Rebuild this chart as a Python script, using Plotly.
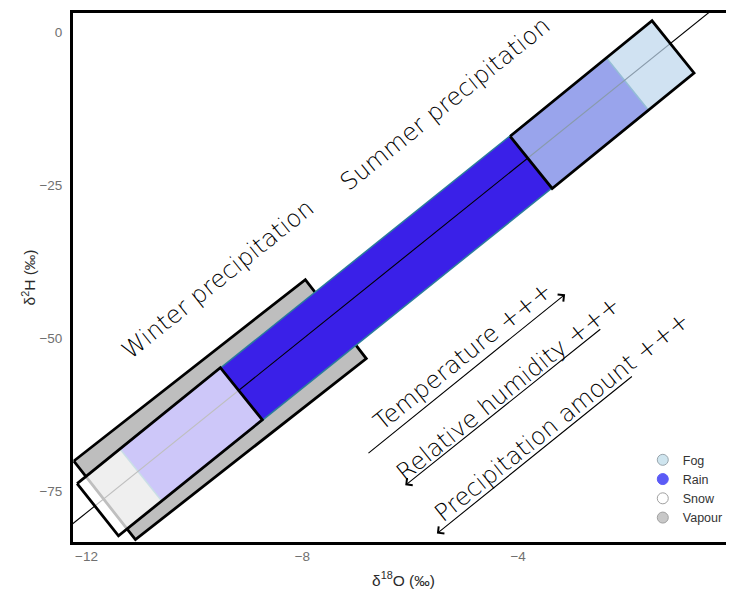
import math
import plotly.graph_objects as go

# ---- data (δ18O, δ2H in ‰) ----
lmwl_d18O = [-12.6, 0.3]
lmwl_d2H = [-82.8, 8.6]

vapour_d18O = [-12.235, -7.944, -6.815, -11.093]
vapour_d2H = [-70.10, -40.46, -53.37, -82.94]

rain_d18O = [-11.383, -2.357, -1.580, -10.606]
rain_d2H = [-68.09, -4.30, -12.83, -76.62]

snow_d18O = [-12.174, -9.519, -8.741, -11.407]
snow_d2H = [-73.79, -54.84, -63.37, -82.32]

fog_d18O = [-4.148, -1.519, -0.741, -3.370]
fog_d2H = [-17.04, 1.83, -6.70, -25.57]

legend_names = ["Fog", "Rain", "Snow", "Vapour"]

x_ticks = [-12, -8, -4, 0]
y_ticks = [-75, -50, -25, 0]

# label centres (δ18O, δ2H)
labels = ["Winter precipitation", "Summer precipitation", "Temperature +++",
          "Relative humidity +++", "Precipitation amount +++"]
label_x = [-9.556, -5.352, -5.019, -4.194, -3.191]
label_y = [-40.41, -11.81, -52.99, -58.27, -62.91]

# arrows: tail -> head
arrow_tail_x = [-6.802, -2.450, -1.865]
arrow_tail_y = [-69.00, -48.37, -56.09]
arrow_head_x = [-3.130, -6.093, -5.506]
arrow_head_y = [-42.86, -74.07, -81.96]

x_range = [-12.25, 0]
y_range = [-83.33, 3.1]

# page body has an 8px margin, so the figure is offset by 8px
W, H = 726, 581
M = dict(l=65, r=0, t=5, b=47)

fig = go.Figure()


def poly(xs, ys, fill, line_color="black", line_width=2.8):
    fig.add_trace(go.Scatter(
        x=xs + xs[:1], y=ys + ys[:1], mode="lines", fill="toself",
        fillcolor=fill, line=dict(color=line_color, width=line_width),
        showlegend=False, hoverinfo="skip"))


poly(vapour_d18O, vapour_d2H, "#bebebe")
poly(rain_d18O, rain_d2H, "#3a20e8", line_color="#2b7c9c", line_width=1.5)
fig.add_trace(go.Scatter(x=lmwl_d18O, y=lmwl_d2H, mode="lines",
                         line=dict(color="black", width=1.1),
                         showlegend=False, hoverinfo="skip"))
poly(snow_d18O, snow_d2H, "rgba(255,255,255,0.75)")
poly(fog_d18O, fog_d2H, "rgba(190,215,237,0.72)")

# legend entries
leg_fill = ["#cfe5ef", "#5b5bf6", "#ffffff", "#c8c8c8"]
leg_line = ["#9aa6ad", "#5b5bf6", "#a0a0a0", "#a0a0a0"]
for name, fc, lc in zip(legend_names, leg_fill, leg_line):
    fig.add_trace(go.Scatter(x=[None], y=[None], mode="markers", name=name,
                             marker=dict(size=11, color=fc,
                                         line=dict(color=lc, width=1))))

# angle of the water line on screen
px_x = (W - M["l"] - M["r"]) / (x_range[1] - x_range[0])
px_y = (H - M["t"] - M["b"]) / (y_range[1] - y_range[0])
slope = (lmwl_d2H[1] - lmwl_d2H[0]) / (lmwl_d18O[1] - lmwl_d18O[0])
ang = math.degrees(math.atan(slope * px_y / px_x))

annotations = []
for t, lx, ly in zip(labels, label_x, label_y):
    annotations.append(dict(x=lx, y=ly, xref="x", yref="y", text=t,
                            showarrow=False, textangle=-ang,
                            font=dict(family="DejaVu Sans", size=24,
                                      weight=300, color="#000000"),
                            xanchor="center", yanchor="middle"))
for tx, ty, hx, hy in zip(arrow_tail_x, arrow_tail_y, arrow_head_x, arrow_head_y):
    annotations.append(dict(x=hx, y=hy, ax=tx, ay=ty, xref="x", yref="y",
                            axref="x", ayref="y", text="", showarrow=True,
                            arrowhead=4, arrowsize=1.6, arrowwidth=1.1,
                            arrowcolor="black", standoff=0, startstandoff=0))

tickfont = dict(family="Liberation Sans, Arial", size=13.5, color="#707070")
titlefont = dict(family="Liberation Sans, Arial", size=15.5, color="#2a2a2a")

fig.update_layout(
    template="none",
    width=W, height=H, margin=M,
    paper_bgcolor="white", plot_bgcolor="white",
    annotations=annotations,
    showlegend=True,
    legend=dict(x=0.862, y=0.183, xanchor="left", yanchor="top",
                bgcolor="white", borderwidth=0,
                font=dict(family="Liberation Sans, Arial", size=12.5,
                          color="#333333"),
                tracegroupgap=0, itemwidth=30),
    xaxis=dict(range=x_range, tickvals=x_ticks, showgrid=False,
               zeroline=False, showline=True, linecolor="black",
               linewidth=3, mirror=True, ticks="",
               ticklabeloverflow="allow",
               tickfont=tickfont, automargin=False,
               title=dict(text="δ<sup>18</sup>O (‰)", font=titlefont,
                          standoff=12)),
    yaxis=dict(range=y_range, tickvals=y_ticks, showgrid=False,
               zeroline=False, showline=True, linecolor="black",
               linewidth=3, mirror=False, ticks="outside", ticklen=5,
               tickcolor="rgba(0,0,0,0)", tickfont=tickfont,
               automargin=False,
               title=dict(text="δ<sup>2</sup>H (‰)", font=titlefont,
                          standoff=0)),
)

fig.write_html("out.html")
